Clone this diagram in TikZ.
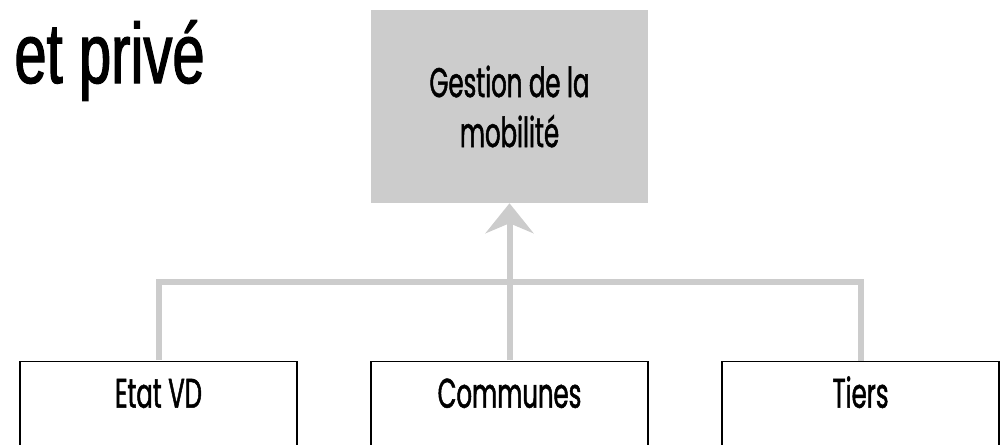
\documentclass[tikz,border=0pt]{standalone}
\usepackage{fontspec}
\setmainfont{Poppins}[FakeStretch=0.59, FakeBold=1.2]
\newfontfamily\titlefont{Liberation Sans}[FakeStretch=0.68, FakeBold=1.4]
\usetikzlibrary{arrows.meta}
\definecolor{boxgray}{HTML}{CCCCCC}
\tikzset{
  mainbox/.style={fill=boxgray, minimum width=207.75pt, minimum height=144.75pt,
    inner sep=0pt, align=center, font=\fontsize{31}{37.5}\selectfont},
  unitbox/.style={draw, line width=1.1pt, anchor=north, minimum width=207.75pt,
    inner sep=0pt, text height=34.5pt, text depth=47pt,
    font=\fontsize{31}{36}\selectfont},
  link/.style={draw=boxgray, line width=4.5pt, line join=miter, shorten <=0.6pt}
}
\begin{document}
\begin{tikzpicture}[x=0.75pt,y=-0.75pt]
\useasboundingbox (0,0) rectangle (1000,444);

\node[anchor=base east, inner sep=0pt, font=\titlefont\fontsize{64}{70}\selectfont] (title) at (205,83) {c et privé};

\node[mainbox] (gestion) at (509.5,106.5) {Gestion de la\\mobilité};

\node[unitbox] (etat) at (158.5,361) {Etat VD};
\node[unitbox] (communes) at (509.5,361) {Communes};
\node[unitbox] (tiers) at (860.5,361) {Tiers};

\coordinate (bus) at (509.5,282);
\draw[link] (etat.north) |- (bus) -| (tiers.north);
\draw[link, -{Stealth[length=22.5pt, width=36pt, inset=7.5pt]}] (communes.north) -- (gestion.south);
\end{tikzpicture}
\end{document}
